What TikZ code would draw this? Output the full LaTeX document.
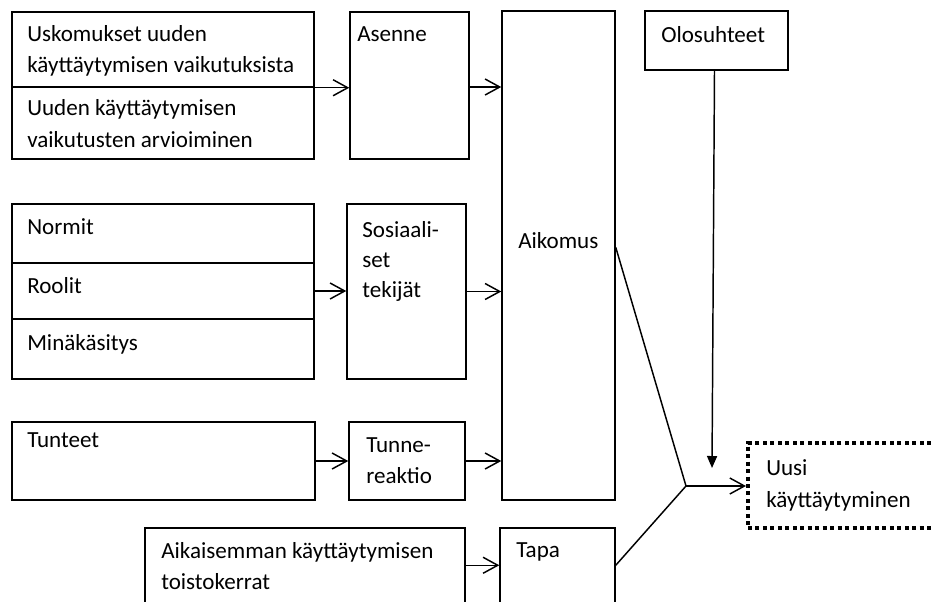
\documentclass[tikz,border=0pt]{standalone}
\usepackage{fontspec}
\setmainfont{Carlito}
\usetikzlibrary{arrows.meta,fit}
\begin{document}
\begin{tikzpicture}[x=0.75pt,y=-0.75pt,
  box/.style={draw, line width=1.1pt, inner sep=0pt},
  lbl/.style={anchor=base west, inner sep=0pt, font=\fontsize{17.3}{20}\selectfont},
  arr/.style={line width=1.1pt, -{Straight Barb[length=11pt,width=12pt,line width=1.1pt]}},
  ln/.style={line width=1.1pt},
  darr/.style={line width=1.1pt, -{Triangle[length=9pt,width=7.5pt]}},
  dotbox/.style={draw, line width=3pt, dash pattern=on 3pt off 2.6pt, inner sep=0pt}
]
\clip (0,0) rectangle (931,601);
\fill[white] (0,0) rectangle (931,601);

% boxes
\node[box, fit={(12,12) (314,87)}] (b1a) {};
\node[box, fit={(12,87) (314,159)}] (b1b) {};
\node[box, fit={(350,12) (469,159)}] (asenne) {};
\node[box, fit={(502,11) (615,500)}] (aik) {};
\node[box, fit={(645,11) (788,70)}] (olo) {};
\node[box, fit={(12,204) (314,263)}] (normit) {};
\node[box, fit={(12,263) (314,319)}] (roolit) {};
\node[box, fit={(12,319) (314,379)}] (mina) {};
\node[box, fit={(347,204) (466,379)}] (sos) {};
\node[box, fit={(12,422) (315,500)}] (tunteet) {};
\node[box, fit={(349,422) (465,500)}] (tunne) {};
\node[box, fit={(145,528) (465,640)}] (aik2) {};
\node[box, fit={(500,528) (615,640)}] (tapa) {};
\node[dotbox, fit={(748,443) (965,528)}] (uusi) {};

% texts
\node[lbl] (t1) at (27,41) {Uskomukset uuden};
\node[lbl] (t2) at (27,72) {käyttäytymisen vaikutuksista};
\node[lbl] (t3) at (27,115) {Uuden käyttäytymisen};
\node[lbl] (t4) at (27,147) {vaikutusten arvioiminen};
\node[lbl] (t5) at (357,41) {Asenne};
\node[lbl] (t6) at (518,248) {Aikomus};
\node[lbl] (t7) at (661,42) {Olosuhteet};
\node[lbl] (t8) at (27,234) {Normit};
\node[lbl] (t9) at (27,293) {Roolit};
\node[lbl] (t10) at (27,350) {Minäkäsitys};
\node[lbl] (t11) at (362,237) {Sosiaali-};
\node[lbl] (t12) at (362,267) {set};
\node[lbl] (t13) at (362,297) {tekijät};
\node[lbl] (t14) at (27,447) {Tunteet};
\node[lbl] (t15) at (366,452) {Tunne-};
\node[lbl] (t16) at (366,483) {reaktio};
\node[lbl] (t17) at (161,558) {Aikaisemman käyttäytymisen};
\node[lbl] (t18) at (161,589) {toistokerrat};
\node[lbl] (t19) at (516,557) {Tapa};
\node[lbl] (t20) at (766,475) {Uusi};
\node[lbl] (t21) at (766,507) {käyttäytyminen};

% connectors
\draw[arr] (b1a.south east) -- (b1a.south east -| asenne.west);
\draw[arr] (asenne.east) ++(0,1.5) coordinate (ae) (ae) -- (ae -| aik.west);
\draw[arr] (roolit.east) -- (roolit.east -| sos.west);
\draw[arr] (sos.east) -- (sos.east -| aik.west);
\draw[arr] (tunteet.east) -- (tunteet.east -| tunne.west);
\draw[arr] (tunne.east) -- (tunne.east -| aik.west);
\path (aik2.north east) ++(0,38) coordinate (a2o);
\draw[arr] (a2o) -- (a2o -| tapa.west);

\coordinate (J) at (686,486);
\path (aik.north east) ++(0,237) coordinate (aiko);
\path (tapa.north east) ++(0,38) coordinate (tapo);
\draw[ln] (aiko) -- (J) -- (tapo);
\draw[arr] (J) -- (J -| uusi.west);

\coordinate (oend) at (712,468);
\draw[darr] (olo.south) ++(-2,0) -- (oend);
\end{tikzpicture}
\end{document}
